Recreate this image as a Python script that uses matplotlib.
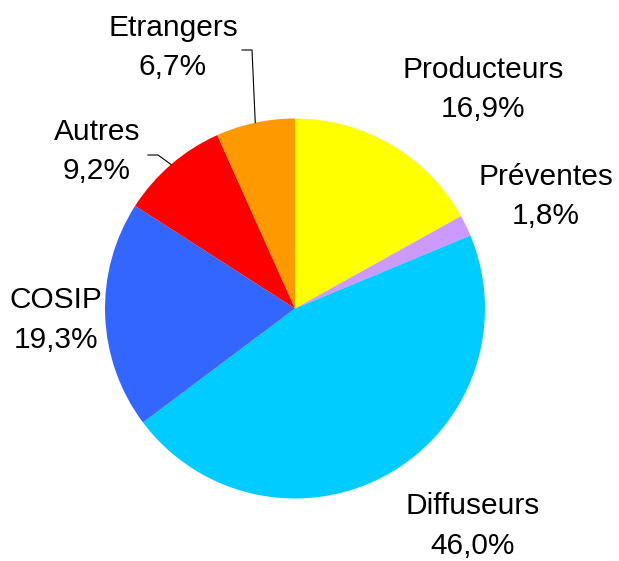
import numpy as np
import matplotlib
matplotlib.use("Agg")
import matplotlib.pyplot as plt

plt.rcParams["font.family"] = ["Liberation Sans", "DejaVu Sans"]

# données
categories = ["Producteurs", "Préventes", "Diffuseurs", "COSIP", "Autres", "Etrangers"]
parts = [16.9, 1.8, 46.0, 19.3, 9.2, 6.7]
couleurs = ["#FFFF00", "#CC99FF", "#00CCFF", "#3366FF", "#FF0000", "#FF9900"]

# mise en page (pixels, origine en haut à gauche)
W, H = 619, 561
cx, cy, r = 295, 308.5, 190
pos_labels = {
    "Producteurs": (483, 89),
    "Préventes": (546, 196),
    "Diffuseurs": (473, 526),
    "COSIP": (56, 320),
    "Autres": (97, 151),
    "Etrangers": (173, 47),
}
# coude des lignes de rappel
coudes = {
    "Etrangers": [(242, 50), (252, 50)],
    "Autres": [(148, 155), (158, 155)],
}

fig = plt.figure(figsize=(W / 100, H / 100), dpi=100)
ax = fig.add_axes([0, 0, 1, 1])

wedges, _ = ax.pie(parts, colors=couleurs, startangle=90, counterclock=False,
                   center=(cx, H - cy), radius=r, frame=True,
                   wedgeprops=dict(linewidth=0))
ax.set_xlim(0, W)
ax.set_ylim(0, H)
ax.set_aspect("equal")
ax.axis("off")

for w, nom, p in zip(wedges, categories, parts):
    x, y = pos_labels[nom]
    txt = f"{nom}\n{p:.1f}%".replace(".", ",")
    ax.text(x, H - y, txt, ha="center", va="center", fontsize=21.5,
            linespacing=1.5, color="black")
    if nom in coudes:
        # ligne de rappel jusqu'au bord du secteur
        a = np.deg2rad((w.theta1 + w.theta2) / 2)
        ex, ey = cx + r * np.cos(a), (H - cy) + r * np.sin(a)
        pts = coudes[nom]
        xs = [q[0] for q in pts] + [ex]
        ys = [H - q[1] for q in pts] + [ey]
        ax.plot(xs, ys, color="black", lw=0.8)

fig.savefig("out.png", dpi=100)
